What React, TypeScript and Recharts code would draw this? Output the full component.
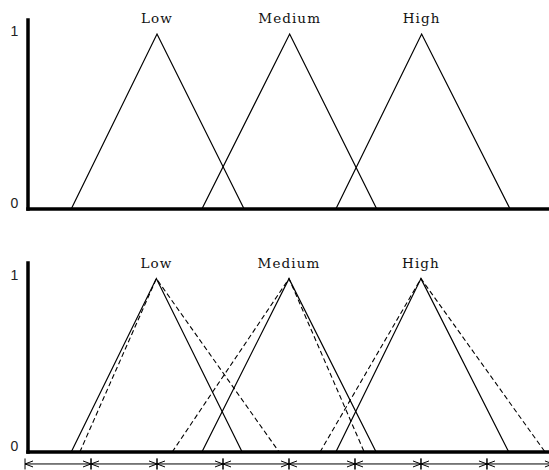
import { LineChart, Line, XAxis, YAxis, ReferenceLine, ReferenceDot } from "recharts";

// fuzzy set names and their triangle break points (left foot, peak, right foot)
const setNames = ["Low", "Medium", "High"];
const membership = [0, 1, 0];

const topBreaks = [
  [0.7, 2.0, 3.32],
  [2.68, 4.01, 5.33],
  [4.71, 6.01, 7.35],
];

const bottomSolidBreaks = [
  [0.7, 1.99, 3.29],
  [2.68, 4.0, 5.32],
  [4.71, 6.0, 7.33],
];

const bottomDashedBreaks = [
  [0.83, 1.99, 3.85],
  [2.23, 4.0, 5.14],
  [4.47, 6.0, 7.88],
];

// interval markers under the lower chart
const intervalTicks = [0, 1, 2, 3, 4, 5, 6, 7, 8];
const intervalRow = -0.069;

const yTicks = [0, 1];
const xDomain = [0.045, 7.94];

const toPoints = (breaks: number[]) =>
  breaks.map((x, i) => ({ x, y: membership[i] }));

const axisStyle = { stroke: "#000", strokeWidth: 3.5, strokeLinecap: "square" as const };

function YTick(props: any) {
  const { y, payload } = props;
  const dy = payload.value === 0 ? -1.5 : 1.5;
  return (
    <text
      x={14.5}
      y={y + dy}
      textAnchor="middle"
      fontFamily="Liberation Sans, Arial, sans-serif"
      fontSize={14}
      fill="#222"
    >
      {payload.value}
    </text>
  );
}

function PeakLabel(name: string, lift: number) {
  return (p: any) => (
    <text
      x={p.cx}
      y={p.cy - lift}
      textAnchor="middle"
      fontFamily="DejaVu Serif, serif"
      fontSize={13.5}
      letterSpacing={1.1}
      fill="#111"
    >
      {name}
    </text>
  );
}

function IntervalArrow(p: any) {
  const { x1, y1, x2, y2 } = p;
  return (
    <g stroke="#000" strokeWidth={1} fill="none">
      <line x1={x1} y1={y1} x2={x2} y2={y2} />
      <line x1={x1} y1={y1 - 5.5} x2={x1} y2={y1 + 5.5} />
      <line x1={x2} y1={y2 - 5.5} x2={x2} y2={y2 + 5.5} />
      <polyline points={`${x1 + 8},${y1 - 3} ${x1},${y1} ${x1 + 8},${y1 + 3}`} />
      <polyline points={`${x2 - 8},${y2 - 3} ${x2},${y2} ${x2 - 8},${y2 + 3}`} />
    </g>
  );
}

export default function App() {
  return (
    <div style={{ position: "absolute", left: 0, top: 0, width: 549, height: 470, background: "#fff" }}>
      <LineChart width={549} height={240} margin={{ top: 20, right: 0, bottom: 30, left: 0 }}>
        <XAxis
          type="number"
          dataKey="x"
          domain={xDomain}
          allowDataOverflow
          height={1}
          tick={false}
          tickLine={false}
          axisLine={axisStyle}
        />
        <YAxis
          type="number"
          domain={[0, 1.08]}
          ticks={yTicks}
          width={28}
          tickLine={false}
          axisLine={axisStyle}
          tick={<YTick />}
        />
        {topBreaks.map((b, i) => (
          <Line
            key={setNames[i]}
            data={toPoints(b)}
            dataKey="y"
            stroke="#000"
            strokeWidth={1.2}
            dot={false}
            isAnimationActive={false}
          />
        ))}
        {topBreaks.map((b, i) => (
          <ReferenceDot key={"l" + i} x={b[1]} y={1} r={0} shape={PeakLabel(setNames[i], 11.5)} />
        ))}
      </LineChart>

      <div style={{ position: "absolute", left: 0, top: 245 }}>
        <LineChart width={549} height={225} margin={{ top: 18, right: 0, bottom: 17, left: 0 }}>
          <XAxis
            type="number"
            dataKey="x"
            domain={xDomain}
            allowDataOverflow
            height={1}
            tick={false}
            tickLine={false}
            axisLine={axisStyle}
          />
          <YAxis
            type="number"
            domain={[0, 1.09]}
            ticks={yTicks}
            width={28}
            tickLine={false}
            axisLine={axisStyle}
            tick={<YTick />}
          />
          {bottomSolidBreaks.map((b, i) => (
            <Line
              key={"s" + setNames[i]}
              data={toPoints(b)}
              dataKey="y"
              stroke="#000"
              strokeWidth={1.2}
              dot={false}
              isAnimationActive={false}
            />
          ))}
          {bottomDashedBreaks.map((b, i) => (
            <Line
              key={"d" + setNames[i]}
              data={toPoints(b)}
              dataKey="y"
              stroke="#000"
              strokeWidth={1.1}
              strokeDasharray="5 3"
              dot={false}
              isAnimationActive={false}
            />
          ))}
          {bottomSolidBreaks.map((b, i) => (
            <ReferenceDot key={"l" + i} x={b[1]} y={1} r={0} shape={PeakLabel(setNames[i], 10.5)} />
          ))}
          {intervalTicks.slice(0, -1).map((t, i) => (
            <ReferenceLine
              key={"a" + t}
              segment={[
                { x: t, y: intervalRow },
                { x: intervalTicks[i + 1], y: intervalRow },
              ]}
              ifOverflow="visible"
              shape={IntervalArrow}
            />
          ))}
        </LineChart>
      </div>
    </div>
  );
}
